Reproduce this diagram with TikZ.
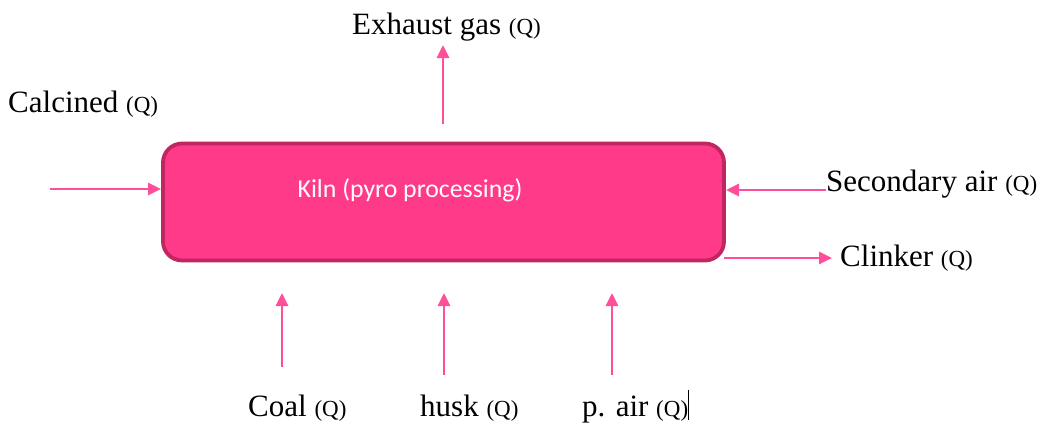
\documentclass[tikz,border=0pt]{standalone}
\usepackage{fontspec}
\setmainfont{Liberation Serif}
\newfontfamily\kilnfont{Carlito}
\usetikzlibrary{arrows.meta}
\definecolor{boxfill}{HTML}{FF3A89}
\definecolor{boxline}{HTML}{C0265F}
\definecolor{arrowpink}{HTML}{FF4F9A}
\tikzset{
  kilnbox/.style={draw=boxline, line width=3.8pt, fill=boxfill, rounded corners=19pt,
    minimum width=561pt, minimum height=117pt, inner sep=0pt},
  lbl/.style={font=\fontsize{31}{34}\selectfont, inner sep=0pt, anchor=base west},
  flow/.style={draw=arrowpink, line width=2.9pt, -{Triangle[length=13pt,width=12pt]}},
}
\newcommand{\qq}{{\fontsize{23}{26}\selectfont(Q)}}
\begin{document}
\begin{tikzpicture}[x=1pt,y=-1pt]
\useasboundingbox (0,0) rectangle (1043,424);
\node[kilnbox] (kiln) at (443.5,202) {};
\node[text=white, font=\kilnfont\fontsize{25.8}{28}\selectfont, anchor=base] (kilntext) at (410,197) {Kiln (pyro processing)};
\node[lbl] (exhaust) at (352,34) {Exhaust gas \qq};
\node[lbl] (calc) at (8,112) {Calcined \qq};
\node[lbl] (sec) at (826,191) {Secondary air \qq};
\node[lbl] (clink) at (840,266) {Clinker \qq};
\node[lbl] (coal) at (248,416) {Coal \qq};
\node[lbl] (husk) at (420,416) {husk \qq};
\node[lbl] (pair) at (582,416) {p. air \qq\rule[-4pt]{1.2pt}{30pt}};
\coordinate (exs) at (443,124);
\coordinate (exe) at (443,45);
\coordinate (cas) at (50,189);
\coordinate (sece) at (726,190);
\coordinate (cls) at (724,258);
\coordinate (cle) at (832,258);
\coordinate (cos) at (282,367);
\coordinate (coe) at (282,293);
\coordinate (hus) at (444,375);
\coordinate (hue) at (444,293);
\coordinate (pas) at (612,375);
\coordinate (pae) at (612,293);
\draw[flow] (exs) -- (exe);
\draw[flow] (cas) -- (kiln.west |- cas);
\draw[flow] (sec.west |- sece) -- (sece);
\draw[flow] (cls) -- (cle);
\draw[flow] (cos) -- (coe);
\draw[flow] (hus) -- (hue);
\draw[flow] (pas) -- (pae);
\end{tikzpicture}
\end{document}
